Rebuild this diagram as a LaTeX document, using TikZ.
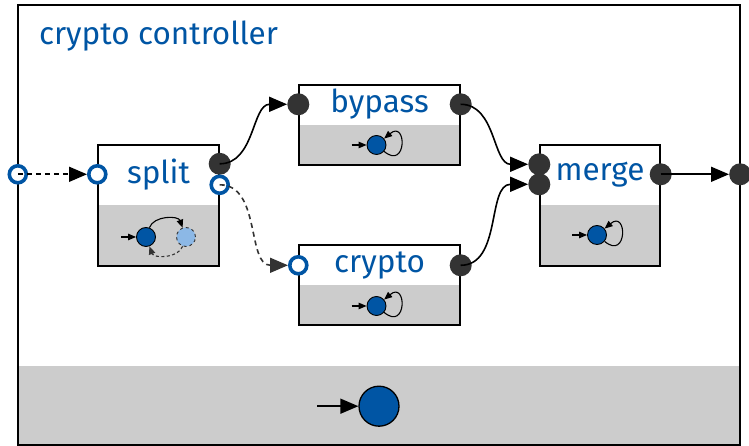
\documentclass[tikz,border=0pt]{standalone}
\usepackage{fontspec}
\setmainfont{Fira Sans}
\usetikzlibrary{positioning,arrows.meta}
\definecolor{ctrlblue}{RGB}{0,85,164}
\definecolor{lightblue}{RGB}{140,184,230}
\definecolor{portgray}{RGB}{51,51,51}
\definecolor{lowgray}{RGB}{204,204,204}
\tikzset{
  module/.style={draw, fill=white, line width=1.4pt, inner sep=0pt,
    path picture={\fill[lowgray] (path picture bounding box.south west)
      rectangle (path picture bounding box.east);}},
  modname/.style={text=ctrlblue, font=\fontsize{31.5}{36}\selectfont, inner sep=0pt},
  outport/.style={circle, fill=portgray, minimum size=22pt, inner sep=0pt},
  inport/.style={circle, draw=ctrlblue, fill=white, line width=3.6pt,
    minimum size=17pt, inner sep=0pt},
  state/.style={circle, draw, fill=ctrlblue, line width=0.9pt,
    minimum size=19pt, inner sep=0pt},
  flow/.style={-{Triangle[length=18pt,width=15pt]}, line width=1.6pt},
  mini/.style={-{Triangle[length=8pt,width=6.5pt]}, line width=1.1pt},
  dashy/.style={dash pattern=on 5pt off 4pt},
}
\begin{document}
\begin{tikzpicture}[x=1pt, y=1pt, on grid]
  \useasboundingbox (0,0) rectangle (749,446);

  % controller frame
  \node[minimum width=722pt, minimum height=440pt, inner sep=0pt] (ctrl) at (379,221) {};
  \fill[lowgray] (ctrl.south west) rectangle ([yshift=79pt]ctrl.south east);
  \draw[line width=1.6pt] (ctrl.south west) rectangle (ctrl.north east);
  \node[modname, anchor=base west] (title) at ([xshift=21pt, yshift=-40pt]ctrl.north west) {crypto controller};

  % modules
  \node[module, minimum width=121pt, minimum height=121pt] (split) at (158.5,240.5) {};
  \node[module, minimum width=161pt, minimum height=80pt,
        above right=80.5pt and 221pt of split] (bypass) {};
  \node[module, minimum width=161pt, minimum height=80pt, below=160pt of bypass] (crypto) {};
  \node[module, minimum width=120pt, minimum height=121pt, right=441.5pt of split] (merge) {};

  \node[modname] (split-name) at ([yshift=-30pt]split.north) {split};
  \node[modname] (bypass-name) at ([yshift=-20pt]bypass.north) {bypass};
  \node[modname] (crypto-name) at ([yshift=-21pt]crypto.north) {crypto};
  \node[modname] (merge-name) at ([yshift=-30pt]merge.north) {merge};

  % ports
  \node[inport] (ctrl-in) at (split-name -| ctrl.west) {};
  \node[inport] (split-in) at (split-name -| split.west) {};
  \node[outport] (split-out) at ([yshift=10.5pt]split-name -| split.east) {};
  \node[inport] (split-alt) at ([yshift=-10.5pt]split-name -| split.east) {};
  \node[outport] (bypass-in) at (bypass-name -| bypass.west) {};
  \node[outport] (bypass-out) at (bypass-name -| bypass.east) {};
  \node[inport] (crypto-in) at (crypto-name -| crypto.west) {};
  \node[outport] (crypto-out) at (crypto-name -| crypto.east) {};
  \node[outport] (merge-in1) at ([yshift=10pt]merge-name -| merge.west) {};
  \node[outport] (merge-in2) at ([yshift=-10pt]merge-name -| merge.west) {};
  \node[outport] (merge-out) at (merge-name -| merge.east) {};
  \node[outport] (ctrl-out) at (merge-name -| ctrl.east) {};

  % connectors
  \draw[flow, dashy] (ctrl-in.center) -- (split-in);
  \draw[flow] (split-out.center) to[out=0, in=180] (bypass-in);
  \draw[flow, dashy, portgray] (split-alt.center) to[out=0, in=180] (crypto-in);
  \draw[flow] (bypass-out.center) to[out=0, in=180] (merge-in1);
  \draw[flow] (crypto-out.center) to[out=0, in=180] (merge-in2);
  \draw[flow] (merge-out.center) -- (ctrl-out);

  % state machines
  \node[state, below=31.5pt of split, xshift=-12.5pt] (split-s1) {};
  \node[state, dashed, draw=portgray, fill=lightblue, right=40pt of split-s1] (split-s2) {};
  \coordinate[left=25pt of split-s1] (split-init);
  \draw[mini] (split-init) -- (split-s1);
  \draw[mini] (split-s1) to[out=70, in=110] (split-s2);
  \draw[mini, portgray, dash pattern=on 3pt off 2.5pt] (split-s2) to[out=-110, in=-70] (split-s1);

  \node[state, below=20pt of bypass, xshift=-3pt] (bypass-s) {};
  \coordinate[left=25pt of bypass-s] (bypass-init);
  \draw[mini] (bypass-init) -- (bypass-s);
  \draw[mini] (bypass-s) to[out=-40, in=40, looseness=6] (bypass-s);

  \node[state, below=21pt of crypto, xshift=-3pt] (crypto-s) {};
  \coordinate[left=25pt of crypto-s] (crypto-init);
  \draw[mini] (crypto-init) -- (crypto-s);
  \draw[mini] (crypto-s) to[out=-40, in=40, looseness=6] (crypto-s);

  \node[state, below=29.5pt of merge, xshift=-3pt] (merge-s) {};
  \coordinate[left=25pt of merge-s] (merge-init);
  \draw[mini] (merge-init) -- (merge-s);
  \draw[mini] (merge-s) to[out=-40, in=40, looseness=6] (merge-s);

  \node[state, minimum size=40pt, line width=1.3pt] (ctrl-s) at ([yshift=39pt]ctrl.south) {};
  \coordinate[left=62pt of ctrl-s] (ctrl-init);
  \draw[flow] (ctrl-init) -- (ctrl-s);
\end{tikzpicture}
\end{document}
